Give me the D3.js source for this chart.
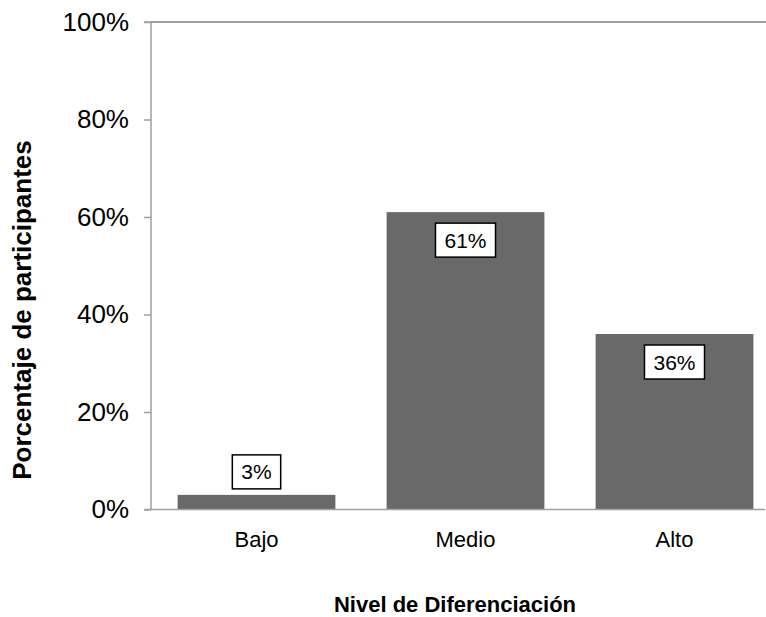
<!DOCTYPE html>
<html>
<head>
<meta charset="utf-8">
<script src="https://cdn.jsdelivr.net/npm/d3@7"></script>
<style>
  body { margin: 0; background: #fff; }
  svg { display: block; font-family: "Liberation Sans", Arial, sans-serif; }
</style>
</head>
<body>
<svg id="chart" width="766" height="617"></svg>
<script>
const categories = ["Bajo", "Medio", "Alto"];
const values = [0.03, 0.61, 0.36];
const valueLabels = ["3%", "61%", "36%"];
const yTicks = [0, 0.2, 0.4, 0.6, 0.8, 1.0];
const yTitle = "Porcentaje de participantes";
const xTitle = "Nivel de Diferenciación";

const svg = d3.select("#chart");
const W = 766;
const mLeft = 152, mRight = 779, mTop = 22, mBottom = 509.5;

const x = d3.scaleBand().domain(categories).range([mLeft, mRight]).paddingInner(0.245).paddingOuter(0.1225);
const y = d3.scaleLinear().domain([0, 1]).range([mBottom, mTop]);

// top border line
svg.append("line").attr("x1", mLeft - 1).attr("x2", W).attr("y1", y(1)).attr("y2", y(1))
  .attr("stroke", "#808080").attr("stroke-width", 1.5);

// bars
svg.append("g").selectAll("rect").data(values).join("rect")
  .attr("x", (d, i) => x(categories[i]))
  .attr("y", d => y(d))
  .attr("width", x.bandwidth())
  .attr("height", d => y(0) - y(d))
  .attr("fill", "#696969");

// y axis
const yAxis = d3.axisLeft(y).tickValues(yTicks).tickFormat(d3.format(".0%")).tickSize(7).tickPadding(15);
const gy = svg.append("g").attr("transform", `translate(${mLeft - 1},0)`).call(yAxis);
gy.select(".domain").attr("stroke", "#a0a0a0").attr("stroke-width", 1.5).attr("d", `M-7,${mTop}H0V${mBottom}`);
gy.selectAll(".tick line").attr("stroke", "#a0a0a0").attr("stroke-width", 1.5);
gy.selectAll(".tick text").attr("font-size", 26).attr("fill", "#000").attr("font-family", "Liberation Sans, Arial, sans-serif");

// x axis
const xAxis = d3.axisBottom(x).tickSize(0).tickPadding(22);
const gx = svg.append("g").attr("transform", `translate(0,${mBottom})`).call(xAxis);
gx.select(".domain").attr("stroke", "#a0a0a0").attr("stroke-width", 1.5).attr("d", `M${mLeft - 8},0H${W - 1}`);
gx.selectAll(".tick text").attr("font-size", 22).attr("fill", "#000").attr("font-family", "Liberation Sans, Arial, sans-serif");

// value labels
const lab = svg.append("g").selectAll("g").data(values).join("g")
  .attr("transform", (d, i) => {
    const cx = x(categories[i]) + x.bandwidth() / 2;
    const cy = d < 0.1 ? y(d) - 23 : y(d) + 28;
    return `translate(${cx},${cy})`;
  });
const rects = lab.append("rect")
  .attr("y", -17)
  .attr("height", 34)
  .attr("fill", "#fff").attr("stroke", "#000").attr("stroke-width", 1.5);
const texts = lab.append("text")
  .attr("text-anchor", "middle").attr("dy", "0.36em")
  .attr("font-size", 21).attr("fill", "#000")
  .text((d, i) => valueLabels[i]);
texts.each(function (d, i) {
  const w = this.getComputedTextLength() + 18;
  d3.select(rects.nodes()[i]).attr("x", -w / 2).attr("width", w);
});

// axis titles
svg.append("text").attr("transform", "translate(31,310) rotate(-90)")
  .attr("text-anchor", "middle").attr("font-size", 26).attr("font-weight", "bold").text(yTitle);
svg.append("text").attr("x", 455).attr("y", 612)
  .attr("text-anchor", "middle").attr("font-size", 22).attr("font-weight", "bold").text(xTitle);
</script>
</body>
</html>
